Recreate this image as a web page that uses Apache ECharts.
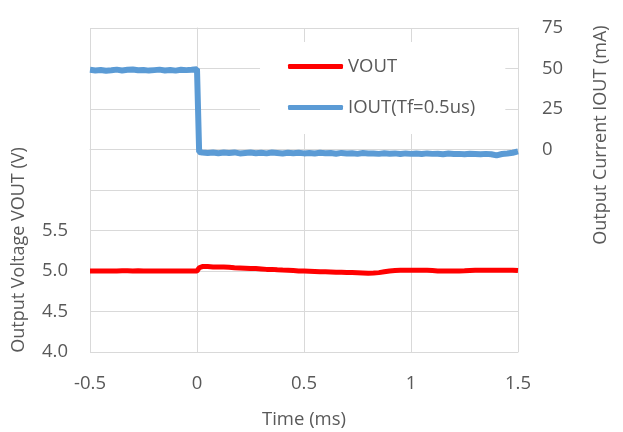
<!DOCTYPE html>
<html>
<head>
<meta charset="utf-8">
<script src="https://cdn.jsdelivr.net/npm/echarts@6/dist/echarts.min.js"></script>
<style>
  html, body { margin: 0; padding: 0; background: #fff; }
  #chart { width: 623px; height: 432px; }
</style>
</head>
<body>
<div id="chart"></div>
<script>
// sample times (ms)
var times = [
  -0.5, -0.475, -0.45, -0.425, -0.4, -0.375, -0.35, -0.325, -0.3, -0.275,
  -0.25, -0.225, -0.2, -0.175, -0.15, -0.125, -0.1, -0.075, -0.05, -0.025,
  0, 0.01, 0.025, 0.05, 0.075, 0.1, 0.125, 0.15, 0.175, 0.2, 0.225,
  0.25, 0.275, 0.3, 0.325, 0.35, 0.375, 0.4, 0.425, 0.45, 0.475,
  0.5, 0.525, 0.55, 0.575, 0.6, 0.625, 0.65, 0.675, 0.7, 0.725,
  0.75, 0.775, 0.8, 0.825, 0.85, 0.875, 0.9, 0.925, 0.95, 0.975,
  1, 1.025, 1.05, 1.075, 1.1, 1.125, 1.15, 1.175, 1.2, 1.225,
  1.25, 1.275, 1.3, 1.325, 1.35, 1.375, 1.4, 1.425, 1.45, 1.475, 1.5
];
// output voltage (V)
var vout = [
  5.0, 5.0, 5.0, 5.0, 5.0, 5.0, 5.003, 5.003, 5.0, 5.003,
  5.0, 5.0, 5.0, 5.0, 5.0, 5.0, 5.0, 5.0, 5.0, 5.0,
  5.0, 5.04, 5.055, 5.055, 5.05, 5.05, 5.048, 5.045, 5.04, 5.038, 5.035,
  5.03, 5.03, 5.025, 5.02, 5.02, 5.015, 5.012, 5.01, 5.005, 5.0,
  5.0, 4.998, 4.995, 4.99, 4.99, 4.988, 4.985, 4.985, 4.982, 4.98,
  4.978, 4.975, 4.972, 4.975, 4.98, 4.99, 5.0, 5.005, 5.008, 5.01,
  5.01, 5.01, 5.01, 5.008, 5.005, 5.0, 5.0, 5.0, 5.0, 5.0,
  5.002, 5.005, 5.008, 5.01, 5.01, 5.01, 5.01, 5.01, 5.008, 5.01, 5.005
];
// output current (mA)
var iout = [
  49.2, 48.8, 49.1, 48.6, 48.9, 49.3, 48.8, 49.2, 49.4, 48.9,
  49.1, 48.7, 49.0, 49.3, 48.8, 49.1, 48.7, 49.2, 49.0, 49.2,
  49.6, -1.5, -1.8, -2.1, -1.8, -2.3, -1.9, -2.2, -1.8, -2.4, -2.1,
  -1.9, -2.3, -2.0, -2.4, -1.9, -2.2, -2.5, -2.0, -2.3, -2.0,
  -2.4, -2.1, -2.5, -2.0, -2.3, -2.2, -2.6, -2.1, -2.4, -2.3,
  -2.7, -2.2, -2.5, -2.4, -2.7, -2.3, -2.6, -2.4, -2.8, -2.4,
  -2.7, -2.5, -2.8, -2.4, -2.7, -2.6, -2.9, -2.5, -2.8, -2.7,
  -2.9, -2.6, -2.8, -3.0, -2.7, -2.9, -3.6, -2.8, -2.5, -2.0, -1.2
];
var voltTicks = ["4.0", "4.5", "5.0", "5.5"];
var currTicks = ["0", "25", "50", "75"];

var textColor = "#595959";
var gridColor = "#d9d9d9";
var font = "Open Sans";

function pairs(xs, ys) {
  return xs.map(function (x, i) { return [x, ys[i]]; });
}

var myChart = echarts.init(document.getElementById("chart"));

var option = {
  animation: false,
  textStyle: { fontFamily: font, color: textColor },
  grid: { left: 90, right: 105, top: 28, bottom: 80, outerBoundsMode: "none" },
  legend: {
    orient: "vertical",
    left: 260,
    top: 42,
    backgroundColor: "#fff",
    padding: [12, 30, 14, 28],
    itemGap: 16,
    itemWidth: 55,
    itemHeight: 5,
    icon: "roundRect",
    textStyle: { fontFamily: font, fontSize: 18.5, color: textColor, lineHeight: 25 },
    data: ["VOUT", "IOUT(Tf=0.5us)"]
  },
  xAxis: {
    type: "value",
    min: -0.5,
    max: 1.5,
    interval: 0.5,
    name: "Time (ms)",
    nameLocation: "middle",
    nameGap: 58,
    nameTextStyle: { fontSize: 18.5, color: textColor },
    axisLine: { show: true, lineStyle: { color: gridColor } },
    axisTick: { show: false },
    axisLabel: { fontSize: 18.5, color: textColor, margin: 22 },
    splitLine: { show: true, lineStyle: { color: gridColor, width: 1 } }
  },
  yAxis: [
    {
      type: "value",
      min: 4,
      max: 8,
      interval: 0.5,
      name: "Output Voltage VOUT (V)",
      nameLocation: "middle",
      nameRotate: 90,
      nameGap: 62,
      nameTextStyle: { fontSize: 18, color: textColor, padding: [0, 120, 0, 0] },
      axisLine: { show: true, lineStyle: { color: gridColor } },
      axisTick: { show: false },
      axisLabel: {
        fontSize: 18.5,
        color: textColor,
        margin: 22,
        formatter: function (v) {
          var s = v.toFixed(1);
          return voltTicks.indexOf(s) >= 0 ? s : "";
        }
      },
      splitLine: { show: true, lineStyle: { color: gridColor, width: 1 } }
    },
    {
      type: "value",
      min: -125,
      max: 75,
      interval: 25,
      position: "right",
      name: "Output Current IOUT (mA)",
      nameLocation: "middle",
      nameRotate: 90,
      nameGap: 74,
      nameTextStyle: { fontSize: 18, color: textColor, padding: [0, 0, 0, 110] },
      axisLine: { show: true, lineStyle: { color: gridColor } },
      axisTick: { show: false },
      axisLabel: {
        fontSize: 18.5,
        color: textColor,
        margin: 24,
        formatter: function (v) {
          var s = String(v);
          return currTicks.indexOf(s) >= 0 ? s : "";
        }
      },
      splitLine: { show: false }
    }
  ],
  series: [
    {
      name: "VOUT",
      type: "line",
      yAxisIndex: 0,
      showSymbol: false,
      color: "#ff0000",
      lineStyle: { color: "#ff0000", width: 5 },
      data: pairs(times, vout)
    },
    {
      name: "IOUT(Tf=0.5us)",
      type: "line",
      yAxisIndex: 1,
      showSymbol: false,
      color: "#5b9bd5",
      lineStyle: { color: "#5b9bd5", width: 6 },
      data: pairs(times, iout)
    }
  ]
};

myChart.setOption(option);
</script>
</body>
</html>
